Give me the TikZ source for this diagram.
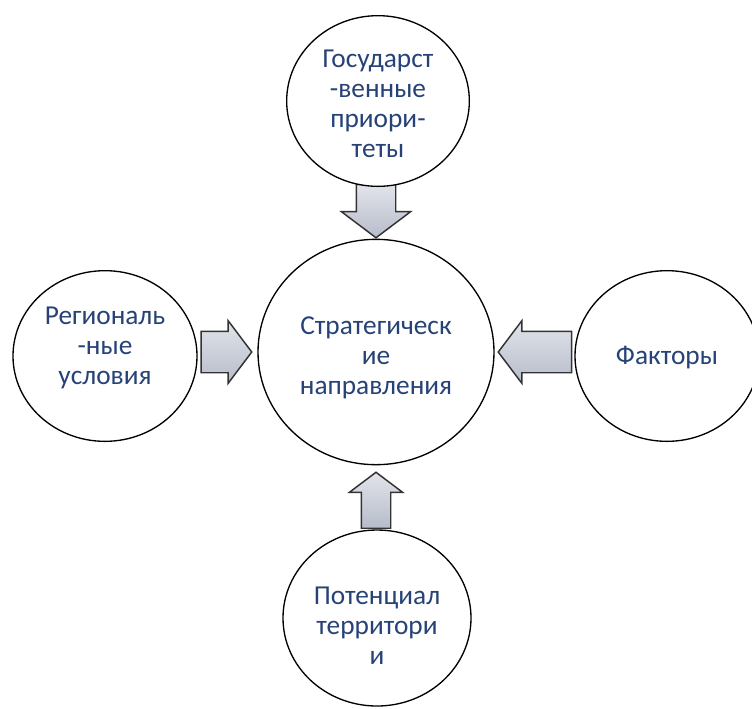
\documentclass[tikz,border=0pt]{standalone}
\usepackage{fontspec}
\setmainfont{Carlito}
\usepackage{tikz}
\usetikzlibrary{calc,shapes.arrows,shapes.geometric,backgrounds}
\definecolor{txtblue}{RGB}{38,66,118}
\definecolor{arrfill}{RGB}{182,188,202}
\tikzset{%
  bcirc/.style={draw=black,shape=ellipse,fill=white,line width=1pt,inner sep=0},
  btext/.style={text=txtblue,align=center,inner sep=0,font=\fontsize{20.5}{22.5}\selectfont},
  barrow/.style={draw=black!80,shape=single arrow,line width=1.1pt,anchor=tip,
    top color=white!60!arrfill,bottom color=arrfill,shading angle=0,
    single arrow tip angle=106,inner xsep=0}
}

\begin{document}
\begin{tikzpicture}[x=0.75pt,y=-0.75pt]
    \useasboundingbox (0,0) rectangle (752,708);
    \node[bcirc,minimum width=177pt,minimum height=169pt] (c_mid) at (376,352) {};
    \node[bcirc,minimum width=137pt,minimum height=128pt] (c_top) at (378,101) {};
    \node[bcirc,minimum width=138pt,minimum height=128pt] (c_left) at (105,356) {};
    \node[bcirc,minimum width=138pt,minimum height=128pt] (c_right) at (667,356) {};
    \node[bcirc,minimum width=141pt,minimum height=132pt] (c_bot) at (377,618) {};
    % texts, a little off the centres as in the original
    \node[btext] (t_mid) at ($(c_mid)+(0,6)$) {Стратегическ\\ие\\направления};
    \node[btext] (t_top) at ($(c_top)+(0,3)$) {Государст\\-венные\\приори-\\теты};
    \node[btext] (t_left) at ($(c_left)+(0,-8)$) {Региональ\\-ные\\условия};
    \node[btext] (t_right) at ($(c_right)+(0,2)$) {Факторы};
    \node[btext] (t_bot) at ($(c_bot)+(0,8)$) {Потенциал\\территори\\и};
    % block arrows, tips on the middle circle, behind the circles
    \begin{scope}[on background layer]
    \node[barrow,rotate=-90,minimum height=40pt,inner ysep=14.25pt,single arrow head extend=11.25pt]
      (a_top) at (c_mid.north) {};
    \node[barrow,rotate=0,minimum height=38pt,inner ysep=15pt,single arrow head extend=8pt]
      (a_left) at ([xshift=-3.5pt]c_mid.west) {};
    \node[barrow,rotate=180,minimum height=55pt,inner ysep=15pt,single arrow head extend=8pt]
      (a_right) at ([xshift=2pt]c_mid.east) {};
    \node[barrow,rotate=90,minimum height=42pt,inner ysep=10.5pt,single arrow head extend=9pt]
      (a_bot) at ([yshift=-4.5pt]c_mid.south) {};
    \end{scope}
\end{tikzpicture}
\end{document}
